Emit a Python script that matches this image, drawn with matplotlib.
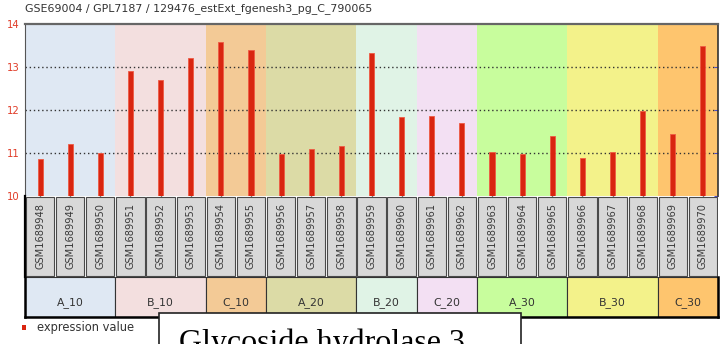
import matplotlib
matplotlib.use("Agg")
import matplotlib.pyplot as plt
from matplotlib.patches import Rectangle

# ---- data ----
title = "GSE69004 / GPL7187 / 129476_estExt_fgenesh3_pg_C_790065"
samples = ["GSM1689948", "GSM1689949", "GSM1689950", "GSM1689951", "GSM1689952",
           "GSM1689953", "GSM1689954", "GSM1689955", "GSM1689956", "GSM1689957",
           "GSM1689958", "GSM1689959", "GSM1689960", "GSM1689961", "GSM1689962",
           "GSM1689963", "GSM1689964", "GSM1689965", "GSM1689966", "GSM1689967",
           "GSM1689968", "GSM1689969", "GSM1689970"]
values = [10.85, 11.20, 11.00, 12.90, 12.70, 13.22, 13.57, 13.39, 10.98, 11.10,
          11.17, 13.32, 11.83, 11.85, 11.69, 11.02, 10.98, 11.40, 10.88, 11.02,
          11.98, 11.44, 13.48]
groups = ["A_10", "B_10", "C_10", "A_20", "B_20", "C_20", "A_30", "B_30", "C_30"]
group_sizes = [3, 3, 2, 3, 2, 2, 3, 3, 2]
group_colors = ["#dfe8f3", "#f3dfdf", "#f3ca96", "#dcdba6", "#e0f3e6",
                "#f3e0f3", "#c8fd9d", "#f3f28a", "#fec56e"]
yticks = [10, 11, 12, 13, 14]
legend_label = "expression value"
caption = "Glycoside hydrolase 3"

W, H = 720, 344
fig = plt.figure(figsize=(W / 100, H / 100), dpi=100)
fig.patch.set_facecolor("white")


def px_axes(x0, y0, x1, y1):
    return fig.add_axes([x0 / W, 1 - y1 / H, (x1 - x0) / W, (y1 - y0) / H])


n = len(samples)
xpos = [i + 0.5 for i in range(n)]
starts = []
s = 0
for g in group_sizes:
    starts.append(s)
    s += g

# ---- main bar panel ----
ax = px_axes(25, 24, 718, 196)
ax.set_xlim(0, n)
ax.set_ylim(yticks[0], yticks[-1])
for st, g, c in zip(starts, group_sizes, group_colors):
    ax.axvspan(st, st + g, color=c, zorder=0, lw=0)
for yv in yticks[1:-1]:
    ax.axhline(yv, color="#333333", lw=1.0, ls=(0, (1, 2)), zorder=1)
ax.bar(xpos, values, width=0.17, color="#d92510", edgecolor="#ee5a44",
       linewidth=0.6, zorder=2)
ax.set_xticks(xpos)
ax.tick_params(axis="x", length=2, width=1, color="black", direction="in",
               labelbottom=False)
ax.set_yticks(yticks)
ax.set_yticklabels([str(v) for v in yticks], color="#e03c28", fontsize=7.3,
                   family="DejaVu Sans")
ax.tick_params(axis="y", which="both", right=True, left=False, length=3,
               direction="in", color="#4a4ad0", pad=4)
ax.spines["top"].set_color("#666666")
ax.spines["top"].set_linewidth(1.6)
ax.spines["left"].set_color("#555555")
ax.spines["right"].set_color("#333333")
ax.spines["right"].set_linewidth(1.2)
ax.spines["bottom"].set_visible(False)

fig.text(25 / W, 1 - 9 / H, title, fontsize=7.9, color="#333333",
         family="DejaVu Sans", va="center", ha="left")

# ---- sample name cells ----
axl = px_axes(25, 196, 718, 277)
axl.set_xlim(0, n)
axl.set_ylim(0, 1)
axl.axis("off")
for i, name in enumerate(samples):
    axl.add_patch(Rectangle((i + 0.03, 0.015), 0.94, 0.97, facecolor="#d8d8d8",
                            edgecolor="#4a4a4a", lw=0.8))
    axl.text(i + 0.5, 0.91, name, rotation=90, ha="center", va="top",
             fontsize=7.1, color="#3a3a3a", family="DejaVu Sans")
axl.plot([0, 0], [0, 1], color="black", lw=1.6, clip_on=False)

# ---- group cells ----
axg = px_axes(25, 277, 718, 317)
axg.set_xlim(0, n)
axg.set_ylim(0, 1)
axg.set_xticks([])
axg.set_yticks([])
for st, g, c, name in zip(starts, group_sizes, group_colors, groups):
    axg.add_patch(Rectangle((st, 0), g, 1, facecolor=c, edgecolor="#333333", lw=0.8))
    axg.text(st + g / 2, 0.35, name, ha="center", va="center", fontsize=7.8,
             color="#333333", family="DejaVu Sans")
for side in ["left", "bottom", "right"]:
    axg.spines[side].set_linewidth(1.8)
    axg.spines[side].set_color("black")
axg.spines["top"].set_visible(False)

# ---- legend ----
fig.patches.append(Rectangle((22 / W, 1 - 330 / H), 4 / W, 5 / H,
                             transform=fig.transFigure, facecolor="#d92510",
                             edgecolor="none"))
fig.text(37 / W, 1 - 328 / H, legend_label, fontsize=8.3, color="#333333",
         family="DejaVu Sans", va="center", ha="left")

# ---- caption box ----
fig.patches.append(Rectangle((159 / W, -0.1), (521 - 159) / W, 0.1 + 1 - 313 / H,
                             transform=fig.transFigure, facecolor="white",
                             edgecolor="#222222", lw=1.2, zorder=5))
fig.text(179 / W, 1 - 351 / H, caption, fontsize=23, family="Liberation Serif",
         color="black", va="baseline", ha="left", zorder=6)

fig.savefig("out.png", dpi=100)
